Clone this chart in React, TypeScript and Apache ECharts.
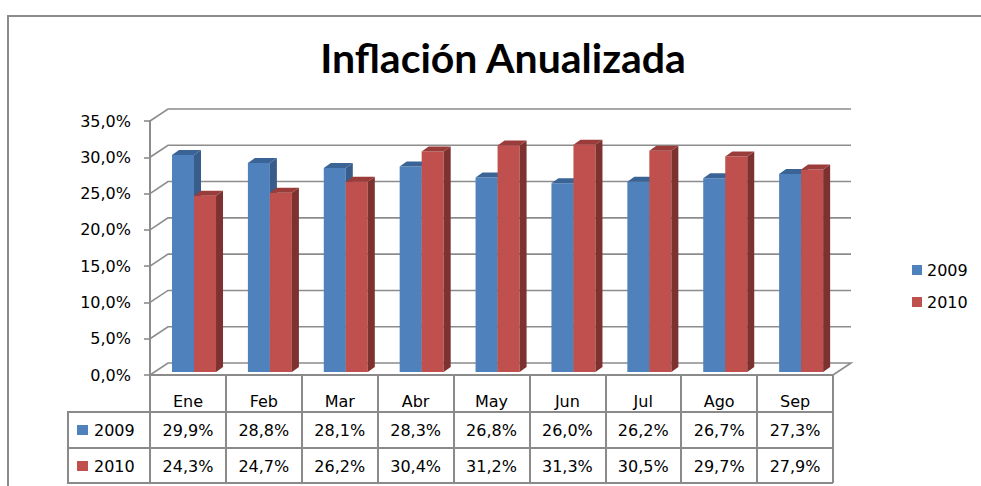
import React, { useEffect, useRef } from "react";
import * as echarts from "echarts";

const categories = ["Ene", "Feb", "Mar", "Abr", "May", "Jun", "Jul", "Ago", "Sep"];
const values2009 = [29.9, 28.8, 28.1, 28.3, 26.8, 26.0, 26.2, 26.7, 27.3];
const values2010 = [24.3, 24.7, 26.2, 30.4, 31.2, 31.3, 30.5, 29.7, 27.9];
const yTicks = [0, 5, 10, 15, 20, 25, 30, 35];
const seriesNames = ["2009", "2010"];
const titleText = "Inflación Anualizada";

const FONT = '"DejaVu Sans", Verdana, sans-serif';
const BLUE = { front: "#4F81BD", side: "#385D8A", top: "#3B6496" };
const RED = { front: "#C0504D", side: "#7E3230", top: "#9A3C3A" };
const GRID_COLOR = "#8c8c8c";
const TABLE_COLOR = "#8a8a8a";

const fmt = (v: number) => v.toFixed(1).replace(".", ",") + "%";

const WALL_DX = 18;
const WALL_DY = -12;
const BAR_DX = 7;
const BAR_DY = -5;

function wallRender(params: any, api: any) {
  const cs = params.coordSys;
  const v = api.value(1);
  const y = api.coord([0, v])[1];
  const left = cs.x;
  const right = cs.x + cs.width;
  const pts: number[][] = [
    [left, y],
    [left + WALL_DX, y + WALL_DY],
    [right + WALL_DX, y + WALL_DY],
  ];
  if (v === 0) pts.push([right, y]);
  return {
    type: "polyline",
    shape: { points: pts },
    style: { stroke: GRID_COLOR, lineWidth: 1.6, fill: null },
  };
}

function makeBarRender(s: number, col: { front: string; side: string; top: string }) {
  return (params: any, api: any) => {
    const i = api.value(0);
    const v = api.value(1);
    const base = api.coord([i, 0]);
    const top = api.coord([i, v]);
    const catW = api.size([1, 0])[0];
    const bw = catW * 0.29;
    const x0 = base[0] + catW * 0.08 - bw + s * bw;
    const yb = base[1] - 3;
    const yt = top[1] - 3;
    return {
      type: "group",
      children: [
        {
          type: "rect",
          shape: { x: x0, y: yt, width: bw, height: yb - yt },
          style: { fill: col.front },
        },
        {
          type: "polygon",
          shape: {
            points: [
              [x0 + bw, yt],
              [x0 + bw + BAR_DX, yt + BAR_DY],
              [x0 + bw + BAR_DX, yb + BAR_DY],
              [x0 + bw, yb],
            ],
          },
          style: { fill: col.side },
        },
        {
          type: "polygon",
          shape: {
            points: [
              [x0, yt],
              [x0 + BAR_DX, yt + BAR_DY],
              [x0 + bw + BAR_DX, yt + BAR_DY],
              [x0 + bw, yt],
            ],
          },
          style: { fill: col.top },
        },
      ],
    };
  };
}

function makeTableRender(rowOffset: number) {
  return (params: any, api: any) => {
    const cs = params.coordSys;
    const i = api.value(0);
    const v = api.value(1);
    const cx = api.coord([i, 0])[0];
    return {
      type: "text",
      x: cx,
      y: cs.y + cs.height + rowOffset,
      style: {
        text: fmt(v),
        fontSize: 16,
        fontFamily: FONT,
        fill: "#000",
        align: "center",
        verticalAlign: "middle",
      },
    };
  };
}

export default function App() {
  const ref = useRef<HTMLDivElement>(null);
  useEffect(() => {
    if (!ref.current) return;
    const chart = echarts.init(ref.current, null, { renderer: "svg" });
    const option: any = {
      animation: false,
      backgroundColor: "#fff",
      grid: { left: 150, right: 148, top: 121, bottom: 111, containLabel: false },
      xAxis: {
        type: "category",
        data: categories,
        axisLine: { show: true, lineStyle: { color: TABLE_COLOR, width: 2 } },
        axisTick: { show: true, length: 108, lineStyle: { color: TABLE_COLOR, width: 2 } },
        axisLabel: { interval: 0, margin: 18, fontSize: 16, fontFamily: FONT, color: "#000" },
        splitLine: { show: false },
      },
      yAxis: {
        type: "value",
        min: 0,
        max: 35,
        interval: 5,
        axisLine: { show: true, lineStyle: { color: GRID_COLOR, width: 2 } },
        axisTick: { show: true, length: 6, lineStyle: { color: GRID_COLOR, width: 1.6 } },
        axisLabel: {
          margin: 19,
          fontSize: 16,
          fontFamily: FONT,
          color: "#000",
          formatter: (v: number) => fmt(v),
        },
        splitLine: { show: false },
      },
      legend: {
        data: seriesNames,
        orient: "vertical",
        left: 912,
        top: 262,
        itemWidth: 10,
        itemHeight: 10,
        itemGap: 16,
        padding: 0,
        icon: "rect",
        textStyle: { fontSize: 16, fontFamily: FONT, color: "#000" },
      },
      series: [
        {
          type: "custom",
          name: "wall",
          data: yTicks.map((v) => [0, v]),
          encode: { x: 0, y: 1 },
          renderItem: wallRender,
          silent: true,
          clip: false,
          z: 1,
        },
        {
          type: "custom",
          name: seriesNames[0],
          data: values2009.map((v, i) => [i, v]),
          encode: { x: 0, y: 1 },
          renderItem: makeBarRender(0, BLUE),
          itemStyle: { color: BLUE.front },
          clip: false,
          z: 2,
        },
        {
          type: "custom",
          name: seriesNames[1],
          data: values2010.map((v, i) => [i, v]),
          encode: { x: 0, y: 1 },
          renderItem: makeBarRender(1, RED),
          itemStyle: { color: RED.front },
          clip: false,
          z: 3,
        },
        {
          type: "custom",
          name: "tabla2009",
          data: values2009.map((v, i) => [i, v]),
          encode: { x: 0, y: 1 },
          renderItem: makeTableRender(55),
          clip: false,
          z: 4,
        },
        {
          type: "custom",
          name: "tabla2010",
          data: values2010.map((v, i) => [i, v]),
          encode: { x: 0, y: 1 },
          renderItem: makeTableRender(91),
          clip: false,
          z: 4,
        },
      ],
      graphic: [
        {
          type: "rect",
          shape: { x: 8, y: 16, width: 1000, height: 500 },
          style: { fill: "none", stroke: GRID_COLOR, lineWidth: 2 },
          z: 0,
        },
        {
          type: "text",
          x: 503,
          y: 57,
          style: {
            text: titleText,
            font: 'bold 41px Lato, sans-serif',
            fill: "#000",
            align: "center",
            verticalAlign: "middle",
          },
        },
        {
          type: "polyline",
          shape: { points: [[150, 412], [68, 412], [68, 483], [150, 483]] },
          style: { stroke: TABLE_COLOR, lineWidth: 2, fill: null },
        },
        {
          type: "line",
          shape: { x1: 68, y1: 412, x2: 833, y2: 412 },
          style: { stroke: TABLE_COLOR, lineWidth: 2 },
        },
        {
          type: "line",
          shape: { x1: 68, y1: 448, x2: 833, y2: 448 },
          style: { stroke: TABLE_COLOR, lineWidth: 2 },
        },
        {
          type: "line",
          shape: { x1: 68, y1: 483, x2: 833, y2: 483 },
          style: { stroke: TABLE_COLOR, lineWidth: 2 },
        },
        {
          type: "rect",
          shape: { x: 77, y: 425, width: 11, height: 10 },
          style: { fill: BLUE.front },
        },
        {
          type: "text",
          x: 94,
          y: 430,
          style: { text: seriesNames[0], fontSize: 16, fontFamily: FONT, fill: "#000", align: "left", verticalAlign: "middle" },
        },
        {
          type: "rect",
          shape: { x: 77, y: 461, width: 11, height: 10 },
          style: { fill: RED.front },
        },
        {
          type: "text",
          x: 94,
          y: 466,
          style: { text: seriesNames[1], fontSize: 16, fontFamily: FONT, fill: "#000", align: "left", verticalAlign: "middle" },
        },
      ],
    };
    chart.setOption(option);
    return () => chart.dispose();
  }, []);
  return (
    <div
      ref={ref}
      style={{ position: "fixed", left: 0, top: 0, width: 981, height: 486 }}
    />
  );
}
